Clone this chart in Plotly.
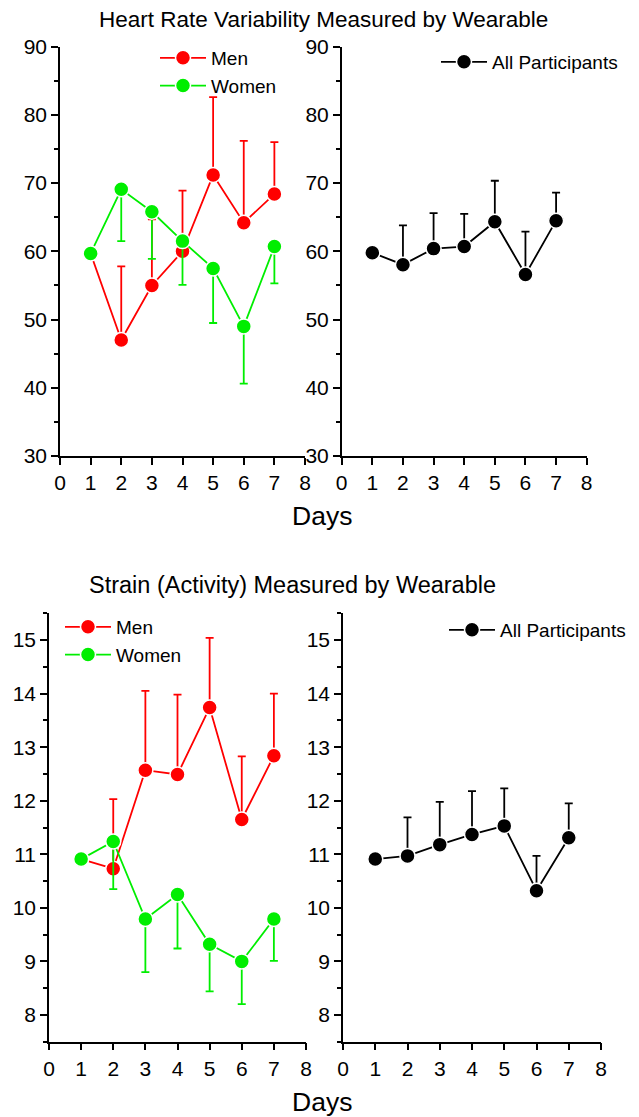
import plotly.graph_objects as go

days = [1, 2, 3, 4, 5, 6, 7]

# Heart Rate Variability
hrv_men = [59.7, 47.0, 55.0, 60.0, 71.2, 64.2, 68.4]
hrv_men_err = [0, 10.8, 9.7, 8.9, 11.4, 12.0, 7.6]
hrv_women = [59.7, 69.1, 65.8, 61.5, 57.5, 49.0, 60.7]
hrv_women_err = [0, 7.6, 6.9, 6.4, 8.0, 8.4, 5.4]
hrv_all = [59.8, 58.05, 60.4, 60.7, 64.35, 56.6, 64.5]
hrv_all_err = [0, 5.75, 5.2, 4.8, 6.0, 6.3, 4.1]

# Strain (Activity)
strain_men = [10.91, 10.73, 12.57, 12.49, 13.74, 11.65, 12.84]
strain_men_err = [0, 1.30, 1.48, 1.49, 1.30, 1.18, 1.16]
strain_women = [10.91, 11.24, 9.79, 10.25, 9.32, 9.0, 9.79]
strain_women_err = [0, 0.89, 0.99, 1.01, 0.88, 0.80, 0.78]
strain_all = [10.91, 10.97, 11.18, 11.37, 11.53, 10.32, 11.31]
strain_all_err = [0, 0.72, 0.80, 0.81, 0.70, 0.65, 0.64]

RED = "#ff0000"
GREEN = "#00ee00"
BLACK = "#000000"
FONT = "Arial, Liberation Sans, sans-serif"
W, H = 639, 1117
OFF = 8  # page body margin compensation


def trace(y, err, color, name, xa, ya, legend, upper=True):
    zeros = [0] * len(err)
    return go.Scatter(
        x=days, y=y, name=name, mode="lines+markers",
        line=dict(color=color, width=1.8),
        marker=dict(color=color, size=15, line=dict(color="white", width=1.5)),
        error_y=dict(type="data", symmetric=False,
                     array=err if upper else zeros,
                     arrayminus=zeros if upper else err,
                     color=color, thickness=1.8, width=4),
        xaxis=xa, yaxis=ya, legend=legend,
    )


fig = go.Figure()
fig.add_trace(trace(hrv_men, hrv_men_err, RED, "Men", "x", "y", "legend", True))
fig.add_trace(trace(hrv_women, hrv_women_err, GREEN, "Women", "x", "y", "legend", False))
fig.add_trace(trace(hrv_all, hrv_all_err, BLACK, "All Participants", "x2", "y2", "legend2", True))
fig.add_trace(trace(strain_men, strain_men_err, RED, "Men", "x3", "y3", "legend3", True))
fig.add_trace(trace(strain_women, strain_women_err, GREEN, "Women", "x3", "y3", "legend3", False))
fig.add_trace(trace(strain_all, strain_all_err, BLACK, "All Participants", "x4", "y4", "legend4", True))


def px_x(p):
    return (p - OFF) / W


def px_y(p):
    return 1 - (p - OFF) / H


common = dict(showline=True, linecolor="black", linewidth=1.5, ticks="outside",
              ticklen=7, tickwidth=1.5, tickcolor="black", showgrid=False,
              zeroline=False, tickfont=dict(family=FONT, size=21, color="black"))

xcommon = dict(common, range=[0, 8], dtick=1, tick0=0)

top_y = [px_y(456), px_y(46.7)]
bot_y = [px_y(1041.7), px_y(613.3)]
minor_top = dict(ticks="outside", ticklen=4, dtick=5, tickcolor="black", tickwidth=1.5)
minor_bot = dict(ticks="outside", ticklen=4, dtick=0.5, tickcolor="black", tickwidth=1.5)
leg = dict(xanchor="left", yanchor="top", bgcolor="rgba(0,0,0,0)", itemwidth=46,
           font=dict(family=FONT, size=19, color="black"), tracegroupgap=0)

fig.update_layout(
    width=W, height=H, margin=dict(l=0, r=0, t=0, b=0, autoexpand=False),
    plot_bgcolor="white", paper_bgcolor="white",
    font=dict(family=FONT, color="black"),
    xaxis=dict(xcommon, domain=[px_x(60), px_x(305)], anchor="y"),
    yaxis=dict(common, domain=top_y, range=[30, 90], dtick=10, anchor="x", minor=minor_top),
    xaxis2=dict(xcommon, domain=[px_x(341.7), px_x(586.7)], anchor="y2"),
    yaxis2=dict(common, domain=top_y, range=[30, 90], dtick=10, anchor="x2", minor=minor_top),
    xaxis3=dict(xcommon, domain=[px_x(49), px_x(306)], anchor="y3"),
    yaxis3=dict(common, domain=bot_y, range=[7.5, 15.5], dtick=1, tick0=8, anchor="x3", minor=minor_bot),
    xaxis4=dict(xcommon, domain=[px_x(343), px_x(601)], anchor="y4"),
    yaxis4=dict(common, domain=bot_y, range=[7.5, 15.5], dtick=1, tick0=8, anchor="x4", minor=minor_bot),
    legend=dict(leg, x=px_x(155), y=px_y(39)),
    legend2=dict(leg, x=px_x(436), y=px_y(43)),
    legend3=dict(leg, x=px_x(60), y=px_y(608)),
    legend4=dict(leg, x=px_x(444), y=px_y(611)),
    showlegend=True,
)

annots = [
    ("Heart Rate Variability Measured by Wearable", 323.5, 19.5, 22.5),
    ("Days", 322, 516.3, 26.5),
    ("Strain (Activity) Measured by Wearable", 292.5, 584.5, 23.5),
    ("Days", 322, 1102, 26.5),
]
for text, ax, ay, size in annots:
    fig.add_annotation(text=text, x=px_x(ax), y=px_y(ay), xref="paper", yref="paper",
                       xanchor="center", yanchor="middle", showarrow=False,
                       font=dict(family=FONT, size=size, color="black"))

fig.write_html("out.html")
